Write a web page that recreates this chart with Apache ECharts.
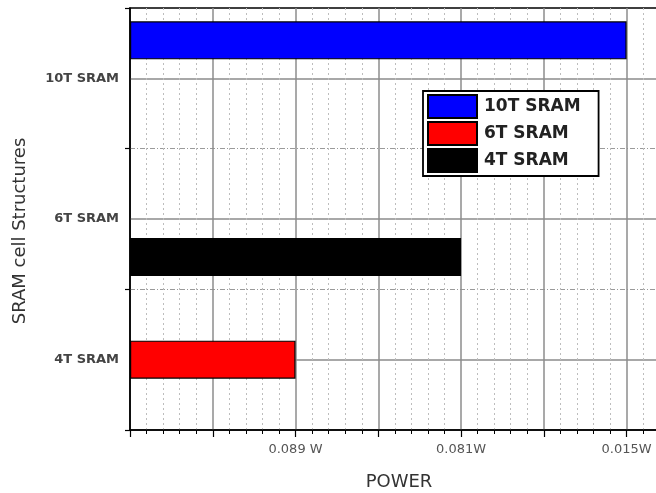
<!DOCTYPE html>
<html>
<head>
<meta charset="utf-8">
<script src="https://cdn.jsdelivr.net/npm/echarts@6/dist/echarts.min.js"></script>
<style>
html,body{margin:0;padding:0;background:#fff;}
#chart{width:656px;height:493px;}
</style>
</head>
<body>
<div id="chart"></div>
<script>
// ---- data ----
const categories = ['4T SRAM', '6T SRAM', '10T SRAM'];
const xTickLabels = ['', '', '0.089 W', '', '0.081W', '', '0.015W'];
const seriesNames = ['10T SRAM', '6T SRAM', '4T SRAM'];
const values10T = ['-', '-', 6];
const values6T = [2, '-', '-'];
const values4T = ['-', 4, '-'];
const colors = ['#0000ff', '#ff0000', '#000000'];

const FONT = 'DejaVu Sans';
const chart = echarts.init(document.getElementById('chart'), null, {renderer: 'canvas'});

function barSeries(name, data, color) {
  return {
    name: name,
    type: 'bar',
    data: data,
    barWidth: 38,
    barGap: '0%',
    itemStyle: {color: color, borderColor: '#000', borderWidth: 1.2},
    xAxisIndex: 0,
    yAxisIndex: 0
  };
}

chart.setOption({
  animation: false,
  backgroundColor: '#fff',
  grid: {
    left: 130, top: 8, width: 538, height: 422,
    outerBoundsMode: 'none',
    containLabel: false,
    show: true, borderColor: '#000', borderWidth: 1.5, backgroundColor: 'transparent'
  },
  legend: {
    data: seriesNames,
    orient: 'vertical',
    left: 423, top: 91,
    itemWidth: 49, itemHeight: 23, itemGap: 2,
    padding: [3, 18, 3, 4],
    borderColor: '#000', borderWidth: 1.8,
    backgroundColor: '#fff',
    icon: 'rect',
    textStyle: {fontFamily: FONT, fontWeight: 'bold', fontSize: 17, color: '#222', padding: [0, 0, 0, 2]}
  },
  xAxis: {
    type: 'value',
    min: 0, max: 6.5, interval: 1,
    name: 'POWER',
    nameLocation: 'middle',
    nameGap: 43,
    nameTextStyle: {fontFamily: FONT, fontSize: 18, color: '#333'},
    axisLine: {show: true, lineStyle: {color: '#000', width: 1.5}},
    axisTick: {show: true, length: 7, lineStyle: {color: '#000', width: 1.2}},
    minorTick: {show: true, splitNumber: 5, length: 4, lineStyle: {color: '#000', width: 1}},
    axisLabel: {
      margin: 13,
      fontFamily: FONT, fontSize: 13, color: '#555',
      formatter: function (v) { const s = xTickLabels[Math.round(v)]; return (Math.abs(v - Math.round(v)) < 1e-6 && s) ? s : ''; }
    },
    splitLine: {show: true, showMinLine: false, lineStyle: {color: '#8c8c8c', width: 1.5}},
    minorSplitLine: {show: true, lineStyle: {color: '#bdbdbd', width: 1, type: [2, 3]}}
  },
  yAxis: [
    {
      type: 'category',
      data: categories,
      name: 'SRAM cell Structures',
      nameLocation: 'middle',
      nameRotate: 90,
      nameGap: 101,
      nameTextStyle: {fontFamily: FONT, fontSize: 18, color: '#333', padding: [0, 24, 0, 0]},
      axisLine: {show: true, lineStyle: {color: '#000', width: 1.5}},
      axisTick: {show: true, length: 5, lineStyle: {color: '#000', width: 1.2}},
      axisLabel: {margin: 11, fontFamily: FONT, fontWeight: 'bold', fontSize: 13, color: '#444'},
      splitLine: {show: false}
    },
    {
      type: 'value',
      position: 'right',
      min: 0, max: 3, interval: 1,
      axisLine: {show: false},
      axisTick: {show: false},
      axisLabel: {show: false},
      splitLine: {show: true, showMinLine: false, showMaxLine: false, lineStyle: {color: '#9a9a9a', width: 1, type: [5, 2, 1, 2]}},
      minorTick: {show: false, splitNumber: 2},
      minorSplitLine: {show: true, lineStyle: {color: '#8c8c8c', width: 1.5}}
    }
  ],
  series: [
    barSeries(seriesNames[0], values10T, colors[0]),
    barSeries(seriesNames[1], values6T, colors[1]),
    barSeries(seriesNames[2], values4T, colors[2])
  ]
});
</script>
</body>
</html>
